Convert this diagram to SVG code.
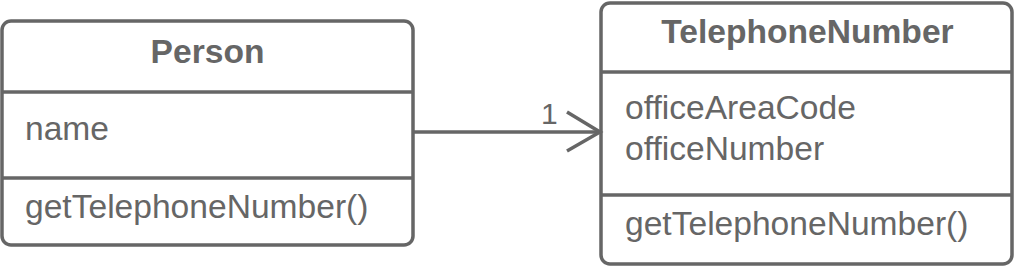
<svg xmlns="http://www.w3.org/2000/svg" width="1017" height="267" viewBox="0 0 1017 267">
<style>
.box{fill:#fff;stroke:#666;stroke-width:3.5}
.div{stroke:#666;stroke-width:3.5}
.t{font-family:"Liberation Sans",Arial,sans-serif;font-size:33.6px;fill:#666}
.b{font-weight:bold;text-anchor:middle}
.conn{stroke:#666;stroke-width:3.5;fill:none}
</style>
<rect width="1017" height="267" fill="#fff"/>
<g id="person">
<rect class="box" x="2" y="21" width="411" height="224" rx="9"/>
<line class="div" x1="2" y1="92" x2="413" y2="92"/>
<line class="div" x1="2" y1="178" x2="413" y2="178"/>
<text class="t b" x="207.5" y="63">Person</text>
<text class="t" x="25" y="140">name</text>
<text class="t" x="25" y="218">getTelephoneNumber()</text>
</g>
<g id="telephoneNumber">
<rect class="box" x="601" y="3" width="411" height="261" rx="9"/>
<line class="div" x1="601" y1="72" x2="1012" y2="72"/>
<line class="div" x1="601" y1="195" x2="1012" y2="195"/>
<text class="t b" x="807.5" y="43">TelephoneNumber</text>
<text class="t" x="625" y="119">officeAreaCode</text>
<text class="t" x="625" y="160">officeNumber</text>
<text class="t" x="625" y="235">getTelephoneNumber()</text>
</g>
<g id="connectors">
<line class="conn" x1="413" y1="132" x2="600" y2="132"/>
<polyline class="conn" points="567,112 600,132 567,151"/>
<text class="t" x="541" y="124" style="font-size:30px">1</text>
</g>
</svg>
